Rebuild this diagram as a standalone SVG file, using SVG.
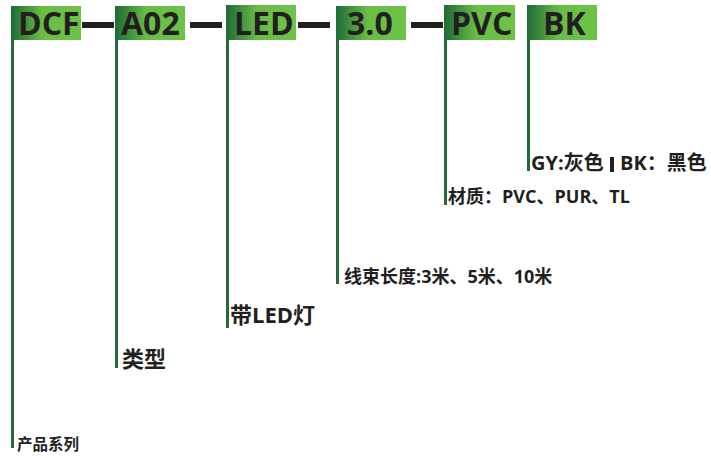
<svg xmlns="http://www.w3.org/2000/svg" width="711" height="458" viewBox="0 0 711 458">
<defs>
<linearGradient id="g" x1="0" y1="0" x2="1" y2="0">
<stop offset="0" stop-color="#1f6a37"/>
<stop offset="0.45" stop-color="#69bd45"/>
<stop offset="1" stop-color="#6dc247"/>
</linearGradient>
<style>
.box{fill:url(#g)}
.code{font-family:"Open Sans","Noto Sans CJK SC",sans-serif;font-weight:bold;font-size:32px;fill:#231f20}
.lbl{font-family:"Open Sans","Noto Sans CJK SC",sans-serif;font-weight:bold;fill:#231f20}
.stem{stroke:#236b3a;stroke-width:3;fill:none}
.dash{fill:#231f20}
</style>
</defs>
<g id="connectors">
<line class="stem" x1="12.5" y1="38" x2="12.5" y2="448"/>
<line class="stem" x1="116.5" y1="38" x2="116.5" y2="368"/>
<line class="stem" x1="227.5" y1="38" x2="227.5" y2="328"/>
<line class="stem" x1="337.5" y1="38" x2="337.5" y2="284"/>
<line class="stem" x1="445.5" y1="38" x2="445.5" y2="205"/>
<line class="stem" x1="528.5" y1="38" x2="528.5" y2="171"/>
<rect class="dash" x="82" y="22" width="32" height="6"/>
<rect class="dash" x="190" y="22" width="32" height="6"/>
<rect class="dash" x="298" y="22" width="32" height="6"/>
<rect class="dash" x="411" y="22" width="32" height="6"/>
</g>
<g id="node-dcf">
<rect class="box" x="11" y="6" width="70" height="34"/>
<text class="code" x="18" y="35">DCF</text>
<text class="lbl" x="17" y="450" font-size="15.5">产品系列</text>
</g>
<g id="node-a02">
<rect class="box" x="115" y="6" width="70" height="34"/>
<text class="code" x="121" y="35">A02</text>
<text class="lbl" x="122" y="367" font-size="22">类型</text>
</g>
<g id="node-led">
<rect class="box" x="226" y="5" width="70" height="35"/>
<text class="code" x="234" y="35">LED</text>
<text class="lbl" x="230" y="323" font-size="22">带LED灯</text>
</g>
<g id="node-len">
<rect class="box" x="336" y="6" width="70" height="34"/>
<text class="code" x="347" y="35">3.0</text>
<text class="lbl" x="344" y="283" font-size="18">线束长度:3米、5米、10米</text>
</g>
<g id="node-pvc">
<rect class="box" x="444" y="5" width="71" height="35"/>
<text class="code" x="451" y="35">PVC</text>
<text class="lbl" x="448" y="203" font-size="18">材质：PVC、PUR、TL</text>
</g>
<g id="node-bk">
<rect class="box" x="527" y="5" width="70" height="35"/>
<text class="code" x="543" y="35">BK</text>
<text class="lbl" x="531" y="170" font-size="20">GY:灰色</text>
<rect class="dash" x="610" y="157" width="4" height="15"/>
<text class="lbl" x="620" y="170" font-size="20">BK：黑色</text>
</g>
</svg>
